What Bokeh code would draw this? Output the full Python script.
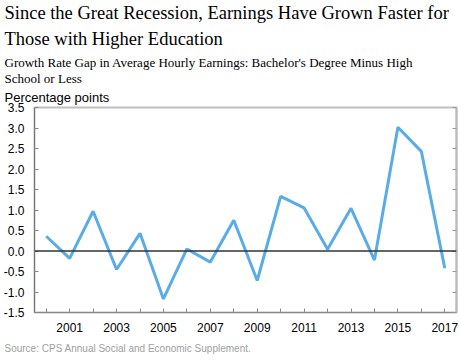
from bokeh.plotting import figure
from bokeh.models import (FixedTicker, NumeralTickFormatter, LinearAxis, Span, Title, Range1d)
from bokeh.embed import file_html
from bokeh.resources import INLINE

# ---- data ----
years = list(range(2000, 2018))
gap = [0.36, -0.18, 0.97, -0.45, 0.43, -1.17, 0.05, -0.27, 0.75, -0.72,
       1.33, 1.05, 0.04, 1.04, -0.22, 3.02, 2.43, -0.42]
y_ticks = [-1.5, -1.0, -0.5, 0.0, 0.5, 1.0, 1.5, 2.0, 2.5, 3.0, 3.5]
x_label_years = [2001, 2003, 2005, 2007, 2009, 2011, 2013, 2015, 2017]
x_minor_years = [2000, 2002, 2004, 2006, 2008, 2010, 2012, 2014, 2016]

title_lines = ["Since the Great Recession, Earnings Have Grown Faster for",
               "Those with Higher Education"]
subtitle_lines = ["Growth Rate Gap in Average Hourly Earnings: Bachelor's Degree Minus High",
                  "School or Less"]
unit_text = "Percentage points"
source_text = "Source: CPS Annual Social and Economic Supplement."

FL, FT, FW, FH = 32, 106, 422, 205   # frame left/top/width/height in page px

p = figure(frame_width=FW, frame_height=FH, output_backend="svg", toolbar_location=None,
           x_range=Range1d(1999.5, 2017.5), y_range=Range1d(-1.5, 3.5),
           min_border_left=FL, min_border_right=5, min_border_top=FT, min_border_bottom=10,
           background_fill_color="white", border_fill_color="white")
p.title = None
p.outline_line_color = "#c0c0c0"
p.outline_line_width = 2
p.xgrid.visible = False
p.ygrid.visible = False

# bottom axis
xa = p.xaxis[0]
xa.ticker = FixedTicker(ticks=x_label_years, minor_ticks=x_minor_years)
xa.major_tick_in = 4
xa.major_tick_out = 0
xa.minor_tick_in = 4
xa.minor_tick_out = 0
xa.axis_line_color = "#888888"
xa.major_tick_line_color = "#888888"
xa.minor_tick_line_color = "#888888"
xa.major_label_text_font = "Liberation Sans"
xa.major_label_text_font_size = "12px"
xa.major_label_text_color = "#000000"
xa.major_label_standoff = 10

# left axis
ya = p.yaxis[0]
ya.ticker = FixedTicker(ticks=y_ticks)
ya.formatter = NumeralTickFormatter(format="0.0")
ya.major_tick_in = 4
ya.major_tick_out = 0
ya.minor_tick_line_color = None
ya.axis_line_color = "#777777"
ya.major_tick_line_color = "#888888"
ya.major_label_text_font = "Liberation Sans"
ya.major_label_text_font_size = "12px"
ya.major_label_text_color = "#000000"
ya.major_label_standoff = 10

# right axis: ticks only (drawn as minor ticks, no labels)
ra = LinearAxis(ticker=FixedTicker(ticks=[], minor_ticks=y_ticks),
                minor_tick_in=4, minor_tick_out=0, major_tick_line_color=None,
                axis_line_color="#bbbbbb", axis_line_width=2,
                minor_tick_line_color="#999999")
p.add_layout(ra, "right")

p.add_layout(Span(location=0, dimension="width", line_color="#333333", line_width=1.6))

p.line(years, gap, line_color="#5aace6", line_width=3)

def head(text, size, font, standoff, side="above", color="#000000"):
    p.add_layout(Title(text=text, text_font=font, text_font_size=size, text_color=color,
                       text_font_style="normal", align="left", offset=2 - FL,
                       standoff=standoff), side)

# added from the frame outward
head(unit_text, "13px", "Liberation Sans", 5)
head(subtitle_lines[1], "13px", "Liberation Serif", 0)
head(subtitle_lines[0], "13px", "Liberation Serif", -2)
head(title_lines[1], "18.5px", "Liberation Serif", 9)
head(title_lines[0], "18.5px", "Liberation Serif", 0)
head(source_text, "10px", "Liberation Sans", 12, side="below", color="#a0a0a0")

open("out.html", "w").write(file_html(p, INLINE))
